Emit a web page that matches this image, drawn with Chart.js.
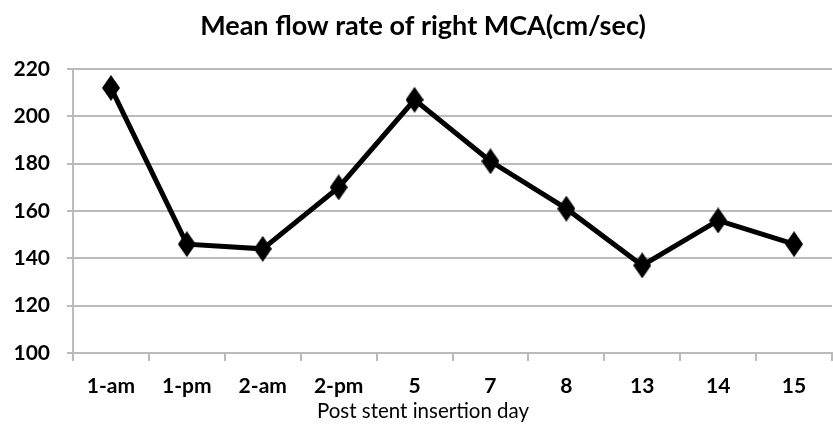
<!DOCTYPE html>
<html><head><meta charset="utf-8">
<script src="https://cdn.jsdelivr.net/npm/chart.js@4"></script>
<style>html,body{margin:0;padding:0;background:#fff;overflow:hidden}#wrap{width:833px;height:427px;overflow:hidden}</style>
</head><body><div id="wrap"><canvas id="c" width="846" height="427"></canvas></div>
<script>
const categories = ['1-am','1-pm','2-am','2-pm','5','7','8','13','14','15'];
const flowRate = [212, 146, 144, 170, 207, 181, 161, 137, 156, 146];
const yTicks = [100, 120, 140, 160, 180, 200, 220];
const FONT = "Lato, 'Open Sans', sans-serif";

// tall diamond marker
const mk = document.createElement('canvas');
mk.width = 18; mk.height = 26;
(function(){ const g = mk.getContext('2d'); g.fillStyle = '#000'; g.beginPath();
  g.moveTo(9, 0); g.lineTo(18, 13); g.lineTo(9, 26); g.lineTo(0, 13); g.closePath(); g.fill(); })();

new Chart(document.getElementById('c'), {
  type: 'line',
  data: { labels: categories, datasets: [{
    data: flowRate, borderColor: '#000', backgroundColor: '#000', borderWidth: 5,
    pointStyle: mk, pointRadius: 9, tension: 0
  }]},
  options: {
    responsive: false, animation: false,
    layout: { padding: 0 },
    plugins: { legend: { display: false }, tooltip: { enabled: false },
      title: { display: true, text: 'Mean flow rate of right MCA(cm/sec)', color: '#000',
        font: { family: FONT, size: 27, weight: 'bold', lineHeight: 1.2 }, padding: { top: 10, bottom: 26.6 } },
      subtitle: { display: true, position: 'bottom', text: 'Post stent insertion day', color: '#000',
        font: { family: FONT, size: 20.5, lineHeight: 1.2 }, padding: { top: 0, bottom: 3 } } },
    scales: {
      x: { offset: true,
        afterFit: s => { s.height = 74 - 27.6; },
        grid: { display: true, drawOnChartArea: false, offset: true, tickLength: 8, color: '#bbb', lineWidth: 2 },
        border: { color: '#bbb', width: 2 },
        ticks: { color: '#000', font: { family: FONT, size: 21, weight: 'bold' }, padding: 13, maxRotation: 0, autoSkip: false } },
      y: { min: yTicks[0], max: yTicks[yTicks.length-1],
        afterBuildTicks: s => { s.ticks = yTicks.map(v => ({ value: v })); },
        afterFit: s => { s.width = 73; },
        grid: { color: '#bbb', lineWidth: 2, tickLength: 6 },
        border: { color: '#bbb', width: 2 },
        ticks: { color: '#000', font: { family: FONT, size: 21, weight: 'bold' }, padding: 17 } }
    }
  }
});
</script></body></html>
